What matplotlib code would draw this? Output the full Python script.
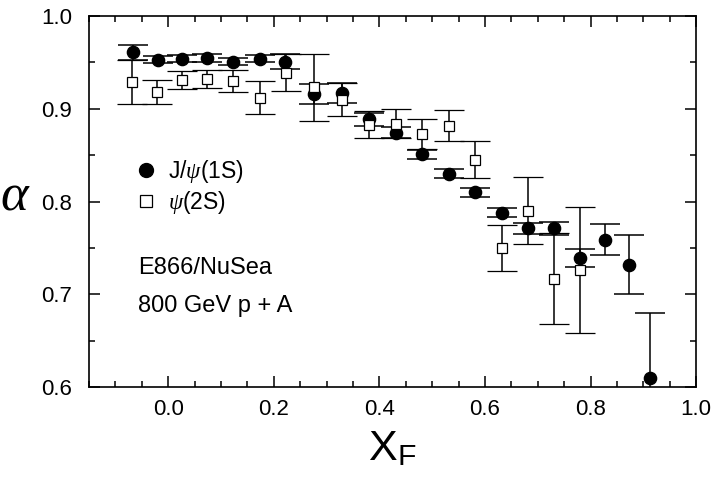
import numpy as np
import matplotlib.pyplot as plt
from matplotlib.lines import Line2D
from matplotlib.ticker import MultipleLocator

plt.rcParams['font.family'] = ['Liberation Sans', 'DejaVu Sans']
plt.rcParams['mathtext.fontset'] = 'custom'
plt.rcParams['mathtext.rm'] = 'Liberation Sans'
plt.rcParams['mathtext.it'] = 'Liberation Serif:italic'

# J/psi(1S)
xf_jpsi = [-0.067, -0.020, 0.026, 0.073, 0.122, 0.173, 0.222, 0.277, 0.330, 0.380, 0.431,
           0.481, 0.531, 0.582, 0.632, 0.682, 0.731, 0.780, 0.827, 0.873, 0.912]
a_jpsi = [0.961, 0.953, 0.954, 0.955, 0.951, 0.954, 0.951, 0.916, 0.917, 0.889, 0.874,
          0.851, 0.830, 0.810, 0.788, 0.771, 0.771, 0.739, 0.759, 0.732, 0.610]
err_jpsi = [0.008, 0.004, 0.004, 0.004, 0.004, 0.004, 0.008, 0.011, 0.011, 0.007, 0.006,
            0.005, 0.005, 0.005, 0.0045, 0.006, 0.007, 0.010, 0.017, 0.032, 0.070]

# psi(2S)
xf_psi2 = [-0.069, -0.021, 0.026, 0.073, 0.122, 0.174, 0.223, 0.277, 0.330, 0.380, 0.431,
           0.481, 0.531, 0.582, 0.632, 0.682, 0.731, 0.780]
a_psi2 = [0.929, 0.918, 0.931, 0.932, 0.930, 0.912, 0.939, 0.923, 0.910, 0.883, 0.884,
          0.873, 0.882, 0.845, 0.750, 0.790, 0.717, 0.726]
err_psi2 = [0.024, 0.013, 0.010, 0.010, 0.012, 0.018, 0.020, 0.036, 0.018, 0.015, 0.016,
            0.016, 0.017, 0.020, 0.025, 0.036, 0.049, 0.068]

fig = plt.figure(figsize=(7.14, 4.88), dpi=100)
ax = fig.add_axes([0.1247, 0.207, 0.8503, 0.760])

ax.errorbar(xf_jpsi, a_jpsi, yerr=err_jpsi, fmt='o', color='black', ms=8.8,
            elinewidth=1.1, capsize=11, capthick=1.1, zorder=3)
ax.errorbar(xf_psi2, a_psi2, yerr=err_psi2, fmt='s', mfc='white', mec='black', mew=0.9,
            color='black', ms=7.8, elinewidth=1.1, capsize=11, capthick=1.1, zorder=4)

ax.set_xlim(-0.15, 1.0)
ax.set_ylim(0.6, 1.0)
ax.xaxis.set_major_locator(MultipleLocator(0.2))
ax.xaxis.set_minor_locator(MultipleLocator(0.05))
ax.yaxis.set_major_locator(MultipleLocator(0.1))
ax.yaxis.set_minor_locator(MultipleLocator(0.05))
ax.tick_params(which='both', direction='in', top=True, right=True, width=1.1)
ax.tick_params(which='major', length=8, labelsize=16)
ax.tick_params(which='minor', length=4.5)
ax.tick_params(axis='x', pad=9)
ax.tick_params(axis='y', pad=12)
ax.xaxis.set_major_formatter(plt.FormatStrFormatter('%.1f'))
ax.yaxis.set_major_formatter(plt.FormatStrFormatter('%.1f'))
for s in ax.spines.values():
    s.set_linewidth(1.2)

ax.set_xlabel(r'X$_\mathregular{F}$', fontsize=31, labelpad=6)
fig.text(0.020, 0.595, 'α', fontsize=38, family='Liberation Serif', style='italic',
         ha='center', va='center')

handles = [Line2D([], [], ls='none', marker='o', color='black', ms=10),
           Line2D([], [], ls='none', marker='s', mfc='white', mec='black', mew=0.9, ms=8.5)]
ax.legend(handles, [r'J/$\psi$(1S)', r'$\psi$(2S)'], loc='upper left',
          bbox_to_anchor=(0.045, 0.672), frameon=False, fontsize=16.5,
          handlelength=0.8, handletextpad=0.55, labelspacing=0.15)

ax.text(0.081, 0.321, 'E866/NuSea', transform=ax.transAxes, fontsize=17, va='center')
ax.text(0.081, 0.218, '800 GeV p + A', transform=ax.transAxes, fontsize=17, va='center')

fig.savefig('out.png', dpi=100)
